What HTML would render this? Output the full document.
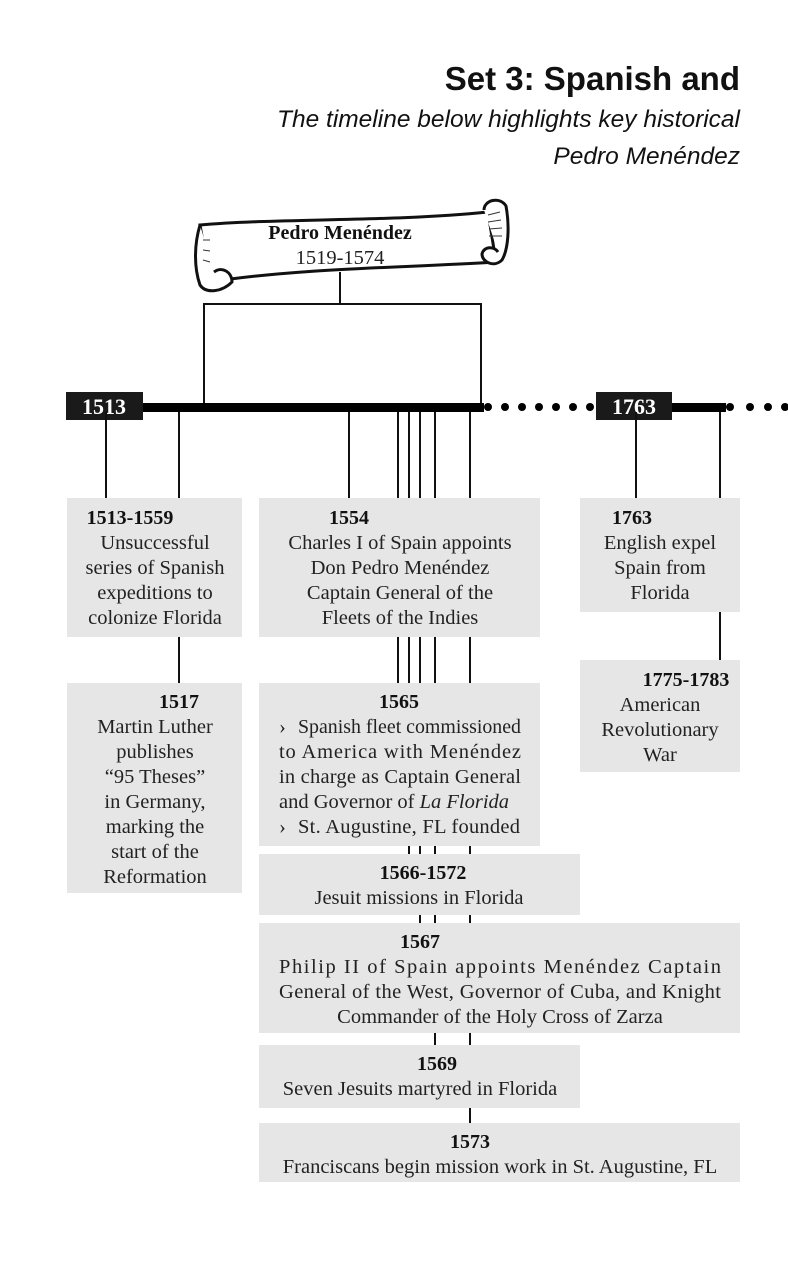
<!DOCTYPE html>
<html><head><meta charset="utf-8"><style>
html,body{margin:0;padding:0;background:#fff;}
body{width:788px;height:1275px;overflow:hidden;}
svg text{font-family:"Liberation Serif",serif;}
.t{font-size:20.5px;fill:#222;}
.b{font-weight:bold;font-size:20px;fill:#111;}
</style></head><body>
<svg width="788" height="1275" xmlns="http://www.w3.org/2000/svg">
<text x="740" y="90" text-anchor="end" style="font-family:'Liberation Sans',sans-serif;font-weight:bold;font-size:33px;fill:#111">Set 3: Spanish and</text>
<text x="740" y="127" text-anchor="end" style="font-family:'Liberation Sans',sans-serif;font-style:italic;font-size:24.5px;fill:#111">The timeline below highlights key historical</text>
<text x="740" y="164" text-anchor="end" style="font-family:'Liberation Sans',sans-serif;font-style:italic;font-size:24.5px;fill:#111">Pedro Menéndez</text>

<!-- scroll -->
<path d="M200,225 C280,218 390,222 488,212 L496,262 C400,268 300,268 210,282 Z" fill="#fff" stroke="#111" stroke-width="3"/>
<path d="M200,225 C194,245 194,268 200,285 C206,294 222,292 232,282 C232,272 222,266 214,272" fill="#fff" stroke="#111" stroke-width="3"/>
<path d="M484,210 C484,200 500,196 506,206 C510,228 508,250 502,260 C494,268 482,262 482,254 C484,246 494,246 498,252" fill="#fff" stroke="#111" stroke-width="3"/>
<g stroke="#333" stroke-width="1"><line x1="488" y1="215" x2="500" y2="212"/><line x1="488" y1="222" x2="501" y2="220"/><line x1="489" y1="229" x2="502" y2="228"/><line x1="489" y1="236" x2="502" y2="236"/><line x1="203" y1="240" x2="210" y2="240"/><line x1="203" y1="250" x2="210" y2="251"/><line x1="203" y1="260" x2="210" y2="262"/></g>
<text x="340" y="239" text-anchor="middle" style="font-weight:bold;font-size:20px;fill:#111">Pedro Menéndez</text>
<text x="340" y="264" text-anchor="middle" style="font-size:20.5px;fill:#222">1519-1574</text>
<line x1="340" y1="272" x2="340" y2="304" stroke="#111" stroke-width="2"/>
<rect x="204" y="304" width="277" height="102" fill="none" stroke="#111" stroke-width="2"/>

<!-- bar -->
<rect x="66" y="403" width="418" height="9" fill="#000"/>
<rect x="66" y="392" width="77" height="28" fill="#1a1a1a"/>
<text x="104" y="414" text-anchor="middle" style="font-weight:bold;font-size:22px;fill:#fff">1513</text>
<g fill="#000"><circle cx="488" cy="407" r="4"/><circle cx="505" cy="407" r="4"/><circle cx="522" cy="407" r="4"/><circle cx="539" cy="407" r="4"/><circle cx="556" cy="407" r="4"/><circle cx="573" cy="407" r="4"/><circle cx="590" cy="407" r="4"/>
<circle cx="730" cy="407" r="4"/><circle cx="750" cy="407" r="4"/><circle cx="768" cy="407" r="4"/><circle cx="785" cy="407" r="4"/></g>
<rect x="596" y="392" width="76" height="28" fill="#1a1a1a"/>
<text x="634" y="414" text-anchor="middle" style="font-weight:bold;font-size:22px;fill:#fff">1763</text>
<rect x="672" y="403" width="54" height="9" fill="#000"/>

<!-- boxes -->
<g fill="#e6e6e6">
<rect x="67" y="498" width="175" height="139"/>
<rect x="259" y="498" width="281" height="139"/>
<rect x="580" y="498" width="160" height="114"/>
<rect x="67" y="683" width="175" height="210"/>
<rect x="259" y="683" width="281" height="163"/>
<rect x="580" y="660" width="160" height="112"/>
<rect x="259" y="854" width="321" height="61"/>
<rect x="259" y="923" width="481" height="110"/>
<rect x="259" y="1045" width="321" height="63"/>
<rect x="259" y="1123" width="481" height="59"/>
</g>

<!-- connectors -->
<g stroke="#111" stroke-width="2">
<line x1="106" y1="412" x2="106" y2="498"/>
<line x1="179" y1="412" x2="179" y2="498"/><line x1="179" y1="637" x2="179" y2="683"/>
<line x1="349" y1="412" x2="349" y2="498"/>
<line x1="398" y1="412" x2="398" y2="498"/><line x1="409" y1="412" x2="409" y2="498"/><line x1="420" y1="412" x2="420" y2="498"/><line x1="435" y1="412" x2="435" y2="498"/><line x1="470" y1="412" x2="470" y2="498"/>
<line x1="398" y1="637" x2="398" y2="683"/><line x1="409" y1="637" x2="409" y2="683"/><line x1="420" y1="637" x2="420" y2="683"/><line x1="435" y1="637" x2="435" y2="683"/><line x1="470" y1="637" x2="470" y2="683"/>
<line x1="409" y1="846" x2="409" y2="854"/><line x1="420" y1="846" x2="420" y2="854"/><line x1="435" y1="846" x2="435" y2="854"/><line x1="470" y1="846" x2="470" y2="854"/>
<line x1="420" y1="915" x2="420" y2="923"/><line x1="435" y1="915" x2="435" y2="923"/><line x1="470" y1="915" x2="470" y2="923"/>
<line x1="435" y1="1033" x2="435" y2="1045"/><line x1="470" y1="1033" x2="470" y2="1045"/>
<line x1="470" y1="1108" x2="470" y2="1123"/>
<line x1="636" y1="412" x2="636" y2="498"/>
<line x1="720" y1="412" x2="720" y2="498"/><line x1="720" y1="612" x2="720" y2="660"/>
</g>

<!-- texts -->
<g text-anchor="middle">
<text x="130" y="524" class="b">1513-1559</text>
<text x="155" y="549" class="t">Unsuccessful</text>
<text x="155" y="574" class="t">series of Spanish</text>
<text x="155" y="599" class="t">expeditions to</text>
<text x="155" y="624" class="t">colonize Florida</text>

<text x="349" y="524" class="b">1554</text>
<text x="400" y="549" class="t">Charles I of Spain appoints</text>
<text x="400" y="574" class="t">Don Pedro Menéndez</text>
<text x="400" y="599" class="t">Captain General of the</text>
<text x="400" y="624" class="t">Fleets of the Indies</text>

<text x="632" y="524" class="b">1763</text>
<text x="660" y="549" class="t">English expel</text>
<text x="660" y="574" class="t">Spain from</text>
<text x="660" y="599" class="t">Florida</text>

<text x="179" y="708" class="b">1517</text>
<text x="155" y="733" class="t">Martin Luther</text>
<text x="155" y="758" class="t">publishes</text>
<text x="155" y="783" class="t">“95 Theses”</text>
<text x="155" y="808" class="t">in Germany,</text>
<text x="155" y="833" class="t">marking the</text>
<text x="155" y="858" class="t">start of the</text>
<text x="155" y="883" class="t">Reformation</text>

<text x="686" y="686" class="b">1775-1783</text>
<text x="660" y="711" class="t">American</text>
<text x="660" y="736" class="t">Revolutionary</text>
<text x="660" y="761" class="t">War</text>

<text x="399" y="708" class="b">1565</text>

<text x="423" y="879" class="b">1566-1572</text>
<text x="419" y="904" class="t">Jesuit missions in Florida</text>

<text x="420" y="948" class="b">1567</text>
<text x="500" y="1023" class="t">Commander of the Holy Cross of Zarza</text>

<text x="437" y="1070" class="b">1569</text>
<text x="420" y="1095" class="t">Seven Jesuits martyred in Florida</text>

<text x="470" y="1148" class="b">1573</text>
<text x="500" y="1173" class="t">Franciscans begin mission work in St. Augustine, FL</text>
</g>
<g>
<text x="279" y="733" class="t">›</text>
<text x="298" y="733" class="t" textLength="223" lengthAdjust="spacingAndGlyphs">Spanish fleet commissioned</text>
<text x="279" y="758" class="t" textLength="242" lengthAdjust="spacing">to America with Menéndez</text>
<text x="279" y="783" class="t" textLength="242" lengthAdjust="spacing">in charge as Captain General</text>
<text x="279" y="808" class="t">and Governor of <tspan font-style="italic">La Florida</tspan></text>
<text x="279" y="833" class="t">›</text>
<text x="298" y="833" class="t" textLength="222" lengthAdjust="spacing">St. Augustine, FL founded</text>
<text x="279" y="973" class="t" textLength="442" lengthAdjust="spacing">Philip II of Spain appoints Menéndez Captain</text>
<text x="279" y="998" class="t" textLength="442" lengthAdjust="spacing">General of the West, Governor of Cuba, and Knight</text>
</g>
</svg>
</body></html>
